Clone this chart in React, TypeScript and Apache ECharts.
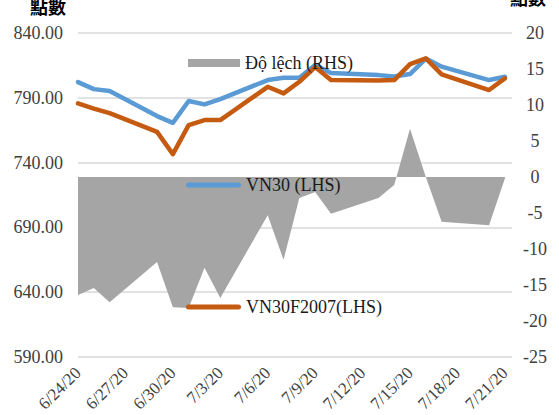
import React, { useEffect, useRef } from "react";
import * as echarts from "echarts";

// Trading days (month/day, 2020)
const dates = [
  "6/24", "6/25", "6/26", "6/29", "6/30", "7/1", "7/2", "7/3", "7/6", "7/7",
  "7/8", "7/9", "7/10", "7/13", "7/14", "7/15", "7/16", "7/17", "7/20", "7/21",
];
const vn30 = [
  802.1, 796.7, 795.2, 775.9, 770.7, 787.5, 784.9, 789.0, 803.7, 805.5,
  805.5, 815.3, 809.1, 807.5, 806.4, 808.3, 820.3, 814.0, 803.7, 806.2,
];
const vn30f2007 = [
  785.7, 781.7, 778.2, 763.7, 746.5, 768.9, 772.8, 772.8, 798.5, 793.4,
  802.4, 813.7, 803.7, 803.3, 803.7, 816.0, 820.4, 808.1, 796.0, 805.0,
];
const basis = [
  -16.4, -15.4, -17.4, -11.8, -18.1, -18.2, -12.6, -16.8, -5.3, -11.5,
  -2.9, -2.1, -5.1, -2.9, -1.1, 6.7, 0.0, -6.2, -6.7, -0.2,
];
const xTickLabels = [
  "6/24/20", "6/27/20", "6/30/20", "7/3/20", "7/6/20",
  "7/9/20", "7/12/20", "7/15/20", "7/18/20", "7/21/20",
];

const SERIF = "Liberation Serif";
const CJK = "Noto Sans CJK TC";

function dayIndex(md: string): number {
  const [m, d] = md.split("/").map(Number);
  const t = Date.UTC(2020, m - 1, d);
  const t0 = Date.UTC(2020, 5, 24);
  return Math.round((t - t0) / 86400000);
}

const LINE_ICON =
  "path://M2.5,0 L52.5,0 A2.5,2.5 0 0 1 52.5,5 L2.5,5 A2.5,2.5 0 0 1 2.5,0 Z";

const legendText = { fontFamily: SERIF, fontSize: 18, color: "#1a1a1a" };

export default function App() {
  const ref = useRef<HTMLDivElement>(null);
  useEffect(() => {
    if (!ref.current) return;
    const chart = echarts.init(ref.current, undefined, { renderer: "svg" });
    const xs = dates.map(dayIndex);
    const option: any = {
      animation: false,
      backgroundColor: "#ffffff",
      textStyle: { fontFamily: SERIF },
      grid: { left: 78, right: 47, top: 33, bottom: 58, containLabel: false },
      graphic: [
        {
          type: "text",
          left: 30,
          top: -3,
          style: { text: "點數", fontFamily: CJK, fontWeight: "bold", fontSize: 18, fill: "#000" },
        },
        {
          type: "text",
          left: 510,
          top: -12,
          style: { text: "點數", fontFamily: CJK, fontWeight: "bold", fontSize: 18, fill: "#000" },
        },
      ],
      legend: [
        {
          data: [{ name: "Độ lệch (RHS)", icon: "rect" }],
          left: 188,
          top: 54,
          itemWidth: 52,
          itemHeight: 8,
          padding: 0,
          textStyle: legendText,
        },
        {
          data: [{ name: "VN30 (LHS)", icon: LINE_ICON }],
          left: 186,
          top: 176,
          itemWidth: 55,
          itemHeight: 5,
          padding: 0,
          textStyle: legendText,
        },
        {
          data: [{ name: "VN30F2007(LHS)", icon: LINE_ICON }],
          left: 186,
          top: 298,
          itemWidth: 55,
          itemHeight: 5,
          padding: 0,
          textStyle: legendText,
        },
      ],
      xAxis: {
        type: "value",
        min: 0,
        max: 27.45,
        interval: 3,
        axisLine: { show: false },
        axisTick: { show: false },
        splitLine: { show: false },
        axisLabel: {
          rotate: 45,
          margin: 13,
          fontFamily: SERIF,
          fontSize: 17,
          color: "#404040",
          showMaxLabel: false,
          formatter: (v: number) => {
            const r = Math.round(v);
            if (Math.abs(v - r) > 1e-6 || r % 3 !== 0) return "";
            return xTickLabels[r / 3] ?? "";
          },
        },
      },
      yAxis: [
        {
          type: "value",
          min: 590,
          max: 840,
          interval: 50,
          axisLine: { show: false },
          axisTick: { show: false },
          splitLine: { show: true, lineStyle: { color: "#d9d9d9", width: 1.5 } },
          axisLabel: {
            margin: 15,
            fontFamily: SERIF,
            fontSize: 18,
            color: "#404040",
            formatter: (v: number) => v.toFixed(2),
          },
        },
        {
          type: "value",
          min: -25,
          max: 20,
          interval: 5,
          axisLine: { show: false },
          axisTick: { show: false },
          splitLine: { show: false },
          axisLabel: {
            margin: 23,
            align: "center",
            fontFamily: SERIF,
            fontSize: 18,
            color: "#404040",
          },
        },
      ],
      series: [
        {
          name: "Độ lệch (RHS)",
          type: "line",
          yAxisIndex: 1,
          data: xs.map((x, i) => [x, basis[i]]),
          symbol: "none",
          lineStyle: { width: 0, color: "#a5a5a5" },
          itemStyle: { color: "#a5a5a5" },
          areaStyle: { color: "#a5a5a5", opacity: 1, origin: 0 },
          z: 1,
        },
        {
          name: "VN30 (LHS)",
          type: "line",
          yAxisIndex: 0,
          data: xs.map((x, i) => [x, vn30[i]]),
          symbol: "none",
          lineStyle: { width: 4.5, color: "#5b9bd5", cap: "round", join: "round" },
          itemStyle: { color: "#5b9bd5" },
          z: 2,
        },
        {
          name: "VN30F2007(LHS)",
          type: "line",
          yAxisIndex: 0,
          data: xs.map((x, i) => [x, vn30f2007[i]]),
          symbol: "none",
          lineStyle: { width: 4.5, color: "#c55a11", cap: "round", join: "round" },
          itemStyle: { color: "#c55a11" },
          z: 3,
        },
      ],
    };
    chart.setOption(option);
    return () => chart.dispose();
  }, []);
  return (
    <div
      ref={ref}
      style={{ position: "absolute", left: 0, top: 0, width: 559, height: 415, background: "#fff" }}
    />
  );
}
